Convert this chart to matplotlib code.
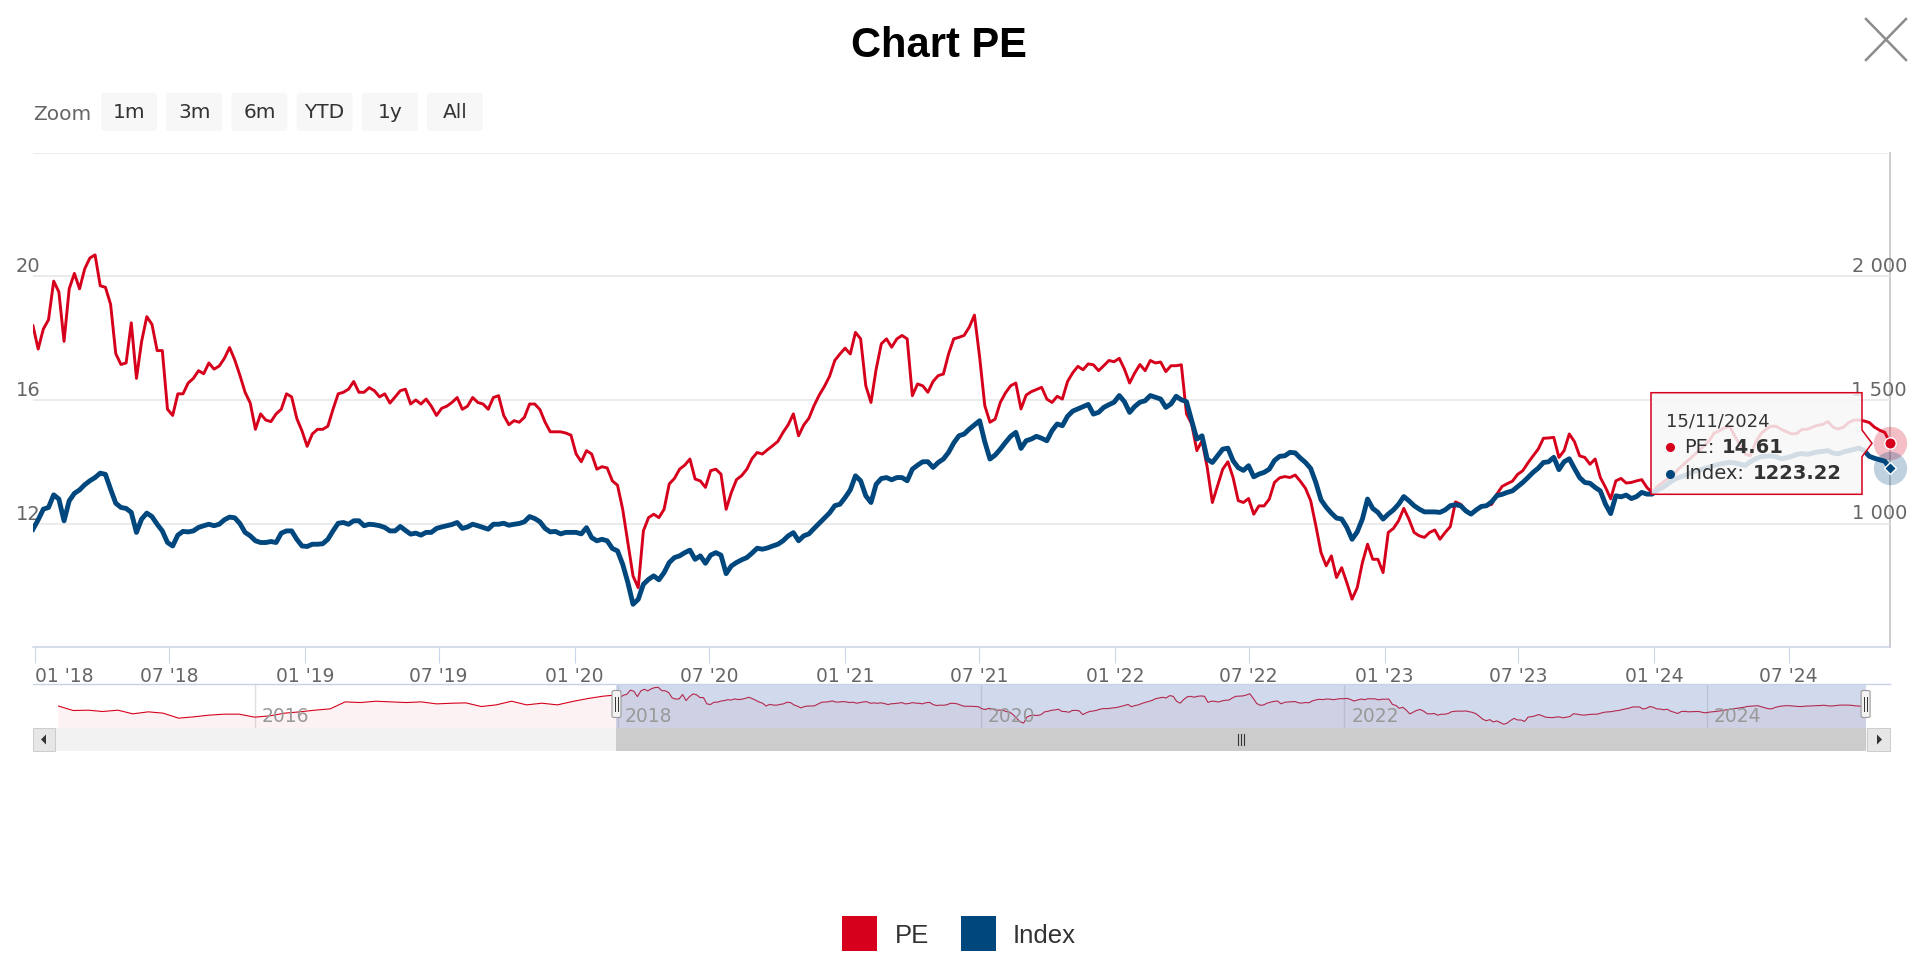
import pandas as pd
import matplotlib
matplotlib.use('Agg')
import matplotlib.pyplot as plt
from matplotlib import transforms
from matplotlib.patches import Rectangle, Polygon, FancyBboxPatch

# weekly values, 29/12/2017 .. 15/11/2024
pe = [
    18.4, 17.65, 18.3, 18.6, 19.85, 19.5, 17.9, 19.6, 20.1, 19.6,
    20.25, 20.6, 20.7, 19.7, 19.65, 19.1, 17.5, 17.15, 17.2, 18.5,
    16.7, 17.9, 18.7, 18.45, 17.6, 17.6, 15.7, 15.5, 16.2, 16.2,
    16.55, 16.7, 16.95, 16.85, 17.2, 17.0, 17.1, 17.35, 17.7, 17.3,
    16.8, 16.25, 15.9, 15.05, 15.55, 15.35, 15.3, 15.55, 15.7, 16.2,
    16.1, 15.4, 15.0, 14.5, 14.9, 15.05, 15.05, 15.15, 15.7, 16.2,
    16.25, 16.35, 16.6, 16.25, 16.25, 16.4, 16.3, 16.1, 16.2, 15.9,
    16.1, 16.3, 16.35, 15.87, 16.0, 15.87, 16.03, 15.8, 15.5, 15.73,
    15.8, 15.92, 16.08, 15.7, 15.8, 16.08, 15.92, 15.87, 15.7, 16.08,
    16.14, 15.5, 15.2, 15.33, 15.28, 15.44, 15.87, 15.87, 15.69, 15.28,
    14.97, 14.97, 14.97, 14.93, 14.86, 14.25, 14.0, 14.36, 14.25, 13.76,
    13.84, 13.8, 13.38, 13.24, 12.46, 11.38, 10.3, 9.92, 11.76, 12.19,
    12.3, 12.19, 12.46, 13.28, 13.46, 13.76, 13.89, 14.09, 13.44, 13.38,
    13.17, 13.71, 13.76, 13.6, 12.46, 13.0, 13.42, 13.55, 13.76, 14.1,
    14.3, 14.25, 14.39, 14.52, 14.66, 14.95, 15.2, 15.55, 14.84, 15.19,
    15.41, 15.82, 16.16, 16.44, 16.77, 17.28, 17.49, 17.68, 17.49, 18.19,
    17.98, 16.46, 15.92, 17.0, 17.82, 17.98, 17.71, 17.98, 18.09, 17.98,
    16.14, 16.52, 16.46, 16.25, 16.6, 16.79, 16.84, 17.49, 17.98, 18.03,
    18.09, 18.36, 18.75, 17.4, 15.82, 15.28, 15.38, 15.92, 16.23, 16.46,
    16.55, 15.71, 16.16, 16.27, 16.34, 16.41, 16.03, 15.92, 16.12, 16.03,
    16.6, 16.88, 17.09, 16.98, 17.17, 17.14, 16.95, 17.11, 17.28, 17.24,
    17.35, 17.0, 16.55, 16.88, 17.15, 16.95, 17.28, 17.2, 17.23, 16.92,
    17.11, 17.11, 17.14, 15.55, 15.22, 14.36, 14.68, 13.82, 12.68, 13.22,
    13.76, 14.0, 13.49, 12.74, 12.68, 12.81, 12.3, 12.57, 12.57, 12.79,
    13.33, 13.48, 13.52, 13.49, 13.57, 13.37, 13.14, 12.74, 11.93, 11.06,
    10.63, 10.95, 10.25, 10.57, 10.08, 9.55, 9.92, 10.73, 11.33, 10.84,
    10.84, 10.41, 11.71, 11.84, 12.09, 12.49, 12.14, 11.71, 11.6, 11.55,
    11.71, 11.79, 11.49, 11.71, 11.9, 12.7, 12.62, 12.41, 12.3, 12.44,
    12.55, 12.57, 12.62, 12.95, 13.2, 13.29, 13.37, 13.59, 13.71, 13.96,
    14.19, 14.41, 14.76, 14.77, 14.79, 14.14, 14.36, 14.9, 14.65, 14.19,
    14.14, 13.92, 14.09, 13.49, 13.17, 12.8, 13.38, 13.46, 13.31, 13.33,
    13.38, 13.42, 13.17, 13.0, 13.2, 13.32, 13.45, 13.55, 13.75, 13.9,
    14.05, 14.2, 14.35, 14.5, 14.67, 14.93, 15.0, 15.1, 15.15, 14.83,
    14.55, 14.25, 14.2, 14.62, 14.9, 15.05, 15.15, 15.15, 15.05, 14.97,
    14.9, 14.92, 15.05, 15.05, 15.12, 15.18, 15.21, 15.3, 15.12, 15.06,
    15.12, 15.27, 15.35, 15.35, 15.32, 15.27, 15.12, 15.02, 14.95, 14.61,
]
index = [
    977, 1015, 1058, 1065, 1116, 1099, 1011, 1092, 1122, 1136,
    1157, 1173, 1186, 1204, 1199, 1139, 1082, 1065, 1061, 1045,
    964, 1018, 1042, 1028, 997, 970, 923, 909, 953, 968,
    966, 970, 984, 991, 997, 991, 997, 1015, 1026, 1023,
    1000, 964, 950, 930, 923, 923, 927, 923, 961, 970,
    970, 936, 909, 907, 916, 916, 918, 936, 970, 1001,
    1004, 997, 1011, 1011, 991, 997, 995, 991, 984, 970,
    970, 988, 972, 957, 961, 953, 964, 964, 980, 986,
    991, 996, 1004, 980, 986, 997, 991, 984, 977, 997,
    997, 1001, 993, 997, 1000, 1007, 1028, 1020, 1007, 980,
    966, 968, 958, 964, 964, 964, 958, 983, 943, 930,
    936, 930, 899, 889, 835, 761, 673, 693, 754, 774,
    788, 772, 801, 842, 862, 869, 882, 892, 855, 869,
    839, 872, 882, 872, 797, 828, 842, 853, 862, 880,
    900, 896, 901, 909, 916, 930, 950, 963, 930, 950,
    958, 980, 1001, 1022, 1043, 1072, 1078, 1105, 1136, 1193,
    1173, 1112, 1085, 1159, 1182, 1186, 1177, 1186, 1186, 1173,
    1220, 1236, 1250, 1250, 1227, 1247, 1261, 1288, 1326, 1355,
    1362, 1382, 1399, 1416, 1331, 1261, 1277, 1301, 1328, 1353,
    1369, 1304, 1335, 1342, 1353, 1345, 1335, 1376, 1403, 1396,
    1434, 1455, 1464, 1473, 1482, 1443, 1450, 1470, 1481, 1491,
    1518, 1493, 1450, 1474, 1491, 1497, 1518, 1511, 1504, 1470,
    1484, 1515, 1501, 1493, 1416, 1342, 1355, 1261, 1247, 1274,
    1301, 1305, 1254, 1226, 1215, 1234, 1189, 1200, 1207, 1220,
    1255, 1272, 1274, 1288, 1286, 1265, 1247, 1223, 1166, 1096,
    1066, 1042, 1022, 1018, 984, 936, 966, 1018, 1099, 1061,
    1045, 1018, 1038, 1055, 1078, 1109, 1092, 1072, 1058, 1047,
    1047, 1047, 1045, 1055, 1072, 1076, 1072, 1051, 1038, 1055,
    1069, 1072, 1088, 1113, 1118, 1126, 1132, 1149, 1166, 1186,
    1207, 1224, 1247, 1250, 1268, 1218, 1250, 1262, 1223, 1186,
    1166, 1163, 1146, 1132, 1078, 1040, 1112, 1108, 1115, 1101,
    1109, 1126, 1119, 1119, 1135, 1145, 1160, 1175, 1185, 1192,
    1200, 1210, 1215, 1222, 1228, 1235, 1240, 1244, 1248, 1245,
    1240, 1235, 1250, 1262, 1270, 1272, 1274, 1270, 1262, 1266,
    1272, 1280, 1283, 1280, 1285, 1290, 1292, 1295, 1285, 1282,
    1290, 1295, 1300, 1305, 1295, 1272, 1264, 1258, 1252, 1223.22,
]
# monthly PE before the zoomed window (only seen in the navigator), 12/2014 .. 12/2017
pe_history = [
    15.1, 13.7, 13.8, 13.4, 13.8, 12.7, 13.3, 12.9, 11.4, 11.8, 12.3, 12.6, 12.6,
    11.7, 12.1, 12.9, 13.3, 13.8, 14.2, 16.3, 16.1, 16.5, 16.3, 16.1, 16.3,
    15.7, 15.9, 16.0, 14.9, 15.4, 16.5, 15.4, 15.9, 15.4, 16.4, 17.3, 18.0,
]

series_names = ['PE', 'Index']
pe_ticks = [12, 16, 20]
index_ticks = [1000, 1500, 2000]
nav_years = [2016, 2018, 2020, 2022, 2024]
zoom_buttons = ['1m', '3m', '6m', 'YTD', '1y', 'All']

dates = pd.date_range('2017-12-29', periods=len(pe), freq='7D')
hist_dates = pd.date_range('2014-12-01', periods=len(pe_history), freq='MS')
x_ticks = pd.date_range('2018-01-01', '2024-07-01', freq='6MS')
x_labels = [d.strftime("%m '%y") for d in x_ticks]

RED = '#d6001c'
BLUE = '#00477e'
W, H = 1920, 963


def fx(px):
    return px / W


def fy(py):
    return 1 - py / H


fig = plt.figure(figsize=(W / 100, H / 100), dpi=100)

# main chart
ax = fig.add_axes([fx(33), fy(647), fx(1857), 494 / H])
ax.set_xlim(dates[0], dates[-1])
ax.set_ylim(8, 24)
ax.set_yticks([8, 12, 16, 20, 24])
ax.tick_params(axis='y', length=0, labelleft=False)
ax.grid(axis='y', color='#e6e6e6', lw=1.1)
ax.set_axisbelow(True)
for s in ['top', 'left', 'right']:
    ax.spines[s].set_visible(False)
ax.spines['bottom'].set_color('#ccd6eb')
ax.spines['bottom'].set_linewidth(1.1)
ax.set_xticks(x_ticks)
ax.set_xticklabels(x_labels)
ax.tick_params(axis='x', length=11.5, width=0.8, color='#ccd6eb',
               labelsize=13.5, labelcolor='#666666', pad=3)
ax.get_xticklabels()[0].set_horizontalalignment('left')

ax.axvline(dates[-1], color='#cccccc', lw=1.4, zorder=0.5, clip_on=False)
ax.plot(dates, pe, color=RED, lw=2.1, solid_joinstyle='round')

ax2 = ax.twinx()
ax2.set_ylim(500, 2500)
ax2.axis('off')
ax2.plot(dates, index, color=BLUE, lw=3.5, solid_joinstyle='round')

# hover markers on the last point
ax.plot(dates[-1], pe[-1], 'o', ms=24, color=RED, alpha=0.25, mec='none', clip_on=False)
ax.plot(dates[-1], pe[-1], 'o', ms=8.2, color=RED, mec='white', mew=1, clip_on=False)
ax2.plot(dates[-1], index[-1], 'o', ms=24, color=BLUE, alpha=0.25, mec='none', clip_on=False)
ax2.plot(dates[-1], index[-1], 'D', ms=6.5, color=BLUE, mec='white', mew=1, clip_on=False)

tl = transforms.blended_transform_factory(fig.transFigure, ax.transData)
for v in pe_ticks:
    ax.text(fx(16), v, str(v), transform=tl, ha='left', va='bottom',
            fontsize=14, color='#666666')
tr = transforms.blended_transform_factory(fig.transFigure, ax2.transData)
for v in index_ticks:
    ax2.text(fx(1907), v, f'{v:,}'.replace(',', ' '), transform=tr, ha='right',
             va='bottom', fontsize=14, color='#666666')

# navigator
nav_start, nav_end = hist_dates[0], dates[-1]
NAV_X0, NAV_W = 57.8, 1807.8
nav = fig.add_axes([fx(NAV_X0), fy(728), fx(NAV_W), 44 / H])
nav_dates = hist_dates.append(dates)
nav_pe = pe_history + pe
nav_lo, nav_hi = 8.43, 21.69
nav.set_xlim(nav_start, nav_end)
nav.set_ylim(nav_lo, nav_hi)
nav.axis('off')
nav.fill_between(nav_dates, nav_pe, nav_lo, color=RED, alpha=0.05, lw=0)
nav.plot(nav_dates, nav_pe, color=RED, lw=0.8)
nav.axvspan(dates[0], dates[-1], color=(0.4, 0.52, 0.76), alpha=0.3, lw=0, zorder=3)
lab_tr = transforms.offset_copy(nav.get_xaxis_transform(), fig=fig, x=7, y=0, units='dots')
for yr in nav_years:
    d = pd.Timestamp(f'{yr}-01-01')
    nav.axvline(d, color='#e0e0e0', lw=1, zorder=0)
    nav.text(d, 0.14, str(yr), transform=lab_tr, fontsize=13.5, color='#999999',
             va='baseline', zorder=4)


def nav_px(d):
    return NAV_X0 + (d - nav_start) / (nav_end - nav_start) * NAV_W


# overlay in pixel coordinates for the chrome around the chart
ov = fig.add_axes([0, 0, 1, 1], zorder=10)
ov.set_xlim(0, W)
ov.set_ylim(H, 0)
ov.axis('off')
ov.patch.set_visible(False)

ov.text(938.5, 57, 'Chart PE', ha='center', va='baseline', fontsize=30,
        fontweight='bold', family='Liberation Sans', color='black')
ov.plot([1866, 1906], [19, 60], color='#8c8c8c', lw=1.8)
ov.plot([1906, 1866], [19, 60], color='#8c8c8c', lw=1.8)

ov.text(33, 120, 'Zoom', fontsize=14.5, color='#666666', va='baseline')
for k, lab in enumerate(zoom_buttons):
    x0 = 101 + 65.2 * k
    ov.add_patch(FancyBboxPatch((x0, 92.7), 56, 38.3, boxstyle='round,pad=0,rounding_size=3',
                                fc='#f7f7f7', ec='none'))
    ov.text(x0 + 28, 118.5, lab, ha='center', va='baseline', fontsize=14.5, color='#333333')

# navigator outline, handles and scrollbar
ov.plot([33, 1890], [684, 684], color='#c8d2e6', lw=1)
sx0, sx1 = nav_px(dates[0]), nav_px(dates[-1])
ov.add_patch(Rectangle((55, 728.5), 1812, 22.5, fc='#f2f2f2', ec='none'))
ov.add_patch(Rectangle((sx0, 728.5), sx1 - sx0, 22.5, fc='#cccccc', ec='none'))
ov.add_patch(Rectangle((33, 728.5), 22, 22.5, fc='#e6e6e6', ec='#cccccc', lw=0.7))
ov.add_patch(Rectangle((1867, 728.5), 23, 22.5, fc='#e6e6e6', ec='#cccccc', lw=0.7))
ov.add_patch(Polygon([(46, 734.5), (46, 744.5), (41, 739.5)], fc='#333333', ec='none'))
ov.add_patch(Polygon([(1877, 734.5), (1877, 744.5), (1882, 739.5)], fc='#333333', ec='none'))
cx = (sx0 + sx1) / 2
for dx in (-3, 0, 3):
    ov.plot([cx + dx, cx + dx], [734.5, 745], color='#333333', lw=0.8)
for hx in (sx0, sx1):
    ov.add_patch(FancyBboxPatch((hx - 4.5, 690.5), 9, 27, boxstyle='round,pad=0,rounding_size=2',
                                fc='#f2f2f2', ec='#999999', lw=0.8))
    for dx in (-1.5, 1.5):
        ov.plot([hx + dx, hx + dx], [697, 711], color='#333333', lw=0.7)

# tooltip
ov.add_patch(Polygon([(1651, 392.7), (1862, 392.7), (1862, 430), (1872, 443.3),
                      (1862, 456.7), (1862, 494.3), (1651, 494.3)],
                     closed=True, fc=(0.969, 0.969, 0.969, 0.85), ec=RED, lw=1.1))
ov.text(1666, 427, dates[-1].strftime('%d/%m/%Y'), fontsize=13, color='#333333', va='baseline')
ov.plot(1670, 447.5, 'o', ms=5.5, color=RED)
ov.plot(1670, 474.5, 'o', ms=5.5, color=BLUE)
ov.text(1684, 452.7, series_names[0] + ':', fontsize=14, color='#333333', va='baseline')
ov.text(1722, 452.7, f'{pe[-1]:.2f}', fontsize=14, fontweight='bold', color='#333333', va='baseline')
ov.text(1684, 479.3, series_names[1] + ':', fontsize=14, color='#333333', va='baseline')
ov.text(1753, 479.3, f'{index[-1]:.2f}', fontsize=14, fontweight='bold', color='#333333', va='baseline')

# legend
ov.add_patch(Rectangle((842, 916), 35, 35, fc=RED, ec='none'))
ov.text(895, 943.3, series_names[0], fontsize=18.5, family='Liberation Sans', color='#333333', va='baseline')
ov.add_patch(Rectangle((961, 916), 35, 35, fc=BLUE, ec='none'))
ov.text(1013, 943.3, series_names[1], fontsize=18.5, family='Liberation Sans', color='#333333', va='baseline')

fig.savefig('out.png', dpi=100)
